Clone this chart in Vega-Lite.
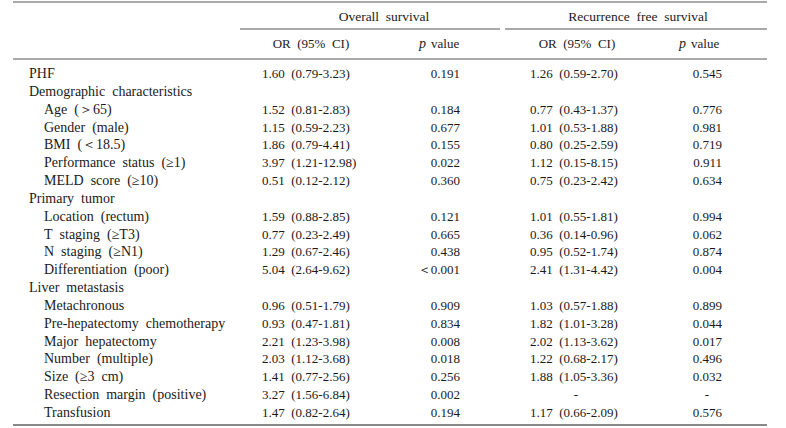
{
  "$schema": "https://vega.github.io/schema/vega-lite/v6.json",
  "width": 786,
  "height": 428,
  "padding": 0,
  "autosize": {"type": "fit", "contains": "padding"},
  "config": {
    "view": {"stroke": null},
    "text": {"font": "Liberation Serif", "fontSize": 13, "color": "#1a1a1a", "baseline": "middle"}
  },
  "datasets": {
    "table": [
      {"row": 1, "label": "PHF", "level": "top", "or1": "1.60\u2002(0.79-3.23)", "p1": "0.191", "or2": "1.26\u2002(0.59-2.70)", "p2": "0.545"},
      {"row": 2, "label": "Demographic\u2002characteristics", "level": "group", "or1": "", "p1": "", "or2": "", "p2": ""},
      {"row": 3, "label": "Age\u2002(＞65)", "level": "item", "or1": "1.52\u2002(0.81-2.83)", "p1": "0.184", "or2": "0.77\u2002(0.43-1.37)", "p2": "0.776"},
      {"row": 4, "label": "Gender\u2002(male)", "level": "item", "or1": "1.15\u2002(0.59-2.23)", "p1": "0.677", "or2": "1.01\u2002(0.53-1.88)", "p2": "0.981"},
      {"row": 5, "label": "BMI\u2002(＜18.5)", "level": "item", "or1": "1.86\u2002(0.79-4.41)", "p1": "0.155", "or2": "0.80\u2002(0.25-2.59)", "p2": "0.719"},
      {"row": 6, "label": "Performance\u2002status\u2002(≥1)", "level": "item", "or1": "3.97\u2002(1.21-12.98)", "p1": "0.022", "or2": "1.12\u2002(0.15-8.15)", "p2": "0.911"},
      {"row": 7, "label": "MELD\u2002score\u2002(≥10)", "level": "item", "or1": "0.51\u2002(0.12-2.12)", "p1": "0.360", "or2": "0.75\u2002(0.23-2.42)", "p2": "0.634"},
      {"row": 8, "label": "Primary\u2002tumor", "level": "group", "or1": "", "p1": "", "or2": "", "p2": ""},
      {"row": 9, "label": "Location\u2002(rectum)", "level": "item", "or1": "1.59\u2002(0.88-2.85)", "p1": "0.121", "or2": "1.01\u2002(0.55-1.81)", "p2": "0.994"},
      {"row": 10, "label": "T\u2002staging\u2002(≥T3)", "level": "item", "or1": "0.77\u2002(0.23-2.49)", "p1": "0.665", "or2": "0.36\u2002(0.14-0.96)", "p2": "0.062"},
      {"row": 11, "label": "N\u2002staging\u2002(≥N1)", "level": "item", "or1": "1.29\u2002(0.67-2.46)", "p1": "0.438", "or2": "0.95\u2002(0.52-1.74)", "p2": "0.874"},
      {"row": 12, "label": "Differentiation\u2002(poor)", "level": "item", "or1": "5.04\u2002(2.64-9.62)", "p1": "＜0.001", "or2": "2.41\u2002(1.31-4.42)", "p2": "0.004"},
      {"row": 13, "label": "Liver\u2002metastasis", "level": "group", "or1": "", "p1": "", "or2": "", "p2": ""},
      {"row": 14, "label": "Metachronous", "level": "item", "or1": "0.96\u2002(0.51-1.79)", "p1": "0.909", "or2": "1.03\u2002(0.57-1.88)", "p2": "0.899"},
      {"row": 15, "label": "Pre-hepatectomy\u2002chemotherapy", "level": "item", "or1": "0.93\u2002(0.47-1.81)", "p1": "0.834", "or2": "1.82\u2002(1.01-3.28)", "p2": "0.044"},
      {"row": 16, "label": "Major\u2002hepatectomy", "level": "item", "or1": "2.21\u2002(1.23-3.98)", "p1": "0.008", "or2": "2.02\u2002(1.13-3.62)", "p2": "0.017"},
      {"row": 17, "label": "Number\u2002(multiple)", "level": "item", "or1": "2.03\u2002(1.12-3.68)", "p1": "0.018", "or2": "1.22\u2002(0.68-2.17)", "p2": "0.496"},
      {"row": 18, "label": "Size\u2002(≥3\u2002cm)", "level": "item", "or1": "1.41\u2002(0.77-2.56)", "p1": "0.256", "or2": "1.88\u2002(1.05-3.36)", "p2": "0.032"},
      {"row": 19, "label": "Resection\u2002margin\u2002(positive)", "level": "item", "or1": "3.27\u2002(1.56-6.84)", "p1": "0.002", "or2": "-", "p2": "-"},
      {"row": 20, "label": "Transfusion", "level": "item", "or1": "1.47\u2002(0.82-2.64)", "p1": "0.194", "or2": "1.17\u2002(0.66-2.09)", "p2": "0.576"}
    ],
    "one": [{"k": 1}]
  },
  "data": {"name": "table"},
  "layer": [
    {"transform": [{"filter": "datum.level !== 'item'"}],
     "mark": {"type": "text", "align": "left", "fontSize": 14},
     "encoding": {
       "x": {"datum": 29, "type": "quantitative", "axis": null, "scale": {"domain": [0, 786], "nice": false, "zero": false}},
       "y": {"field": "row", "type": "quantitative", "axis": null, "scale": {"domain": [-3.1475, 20.84], "reverse": true, "nice": false, "zero": false}},
       "text": {"field": "label"}}},
    {"transform": [{"filter": "datum.level === 'item'"}],
     "mark": {"type": "text", "align": "left", "fontSize": 14},
     "encoding": {"x": {"datum": 44, "type": "quantitative"}, "y": {"field": "row", "type": "quantitative"}, "text": {"field": "label"}}},
    {"mark": {"type": "text", "align": "left"},
     "encoding": {"x": {"datum": 262, "type": "quantitative"}, "y": {"field": "row", "type": "quantitative"}, "text": {"field": "or1"}}},
    {"mark": {"type": "text", "align": "right"},
     "encoding": {"x": {"datum": 460, "type": "quantitative"}, "y": {"field": "row", "type": "quantitative"}, "text": {"field": "p1"}}},
    {"transform": [{"filter": "datum.or2 !== '-'"}],
     "mark": {"type": "text", "align": "left"},
     "encoding": {"x": {"datum": 530, "type": "quantitative"}, "y": {"field": "row", "type": "quantitative"}, "text": {"field": "or2"}}},
    {"transform": [{"filter": "datum.or2 === '-'"}],
     "mark": {"type": "text", "align": "center"},
     "encoding": {"x": {"datum": 576, "type": "quantitative"}, "y": {"field": "row", "type": "quantitative"}, "text": {"field": "or2"}}},
    {"transform": [{"filter": "datum.p2 !== '-'"}],
     "mark": {"type": "text", "align": "right"},
     "encoding": {"x": {"datum": 722, "type": "quantitative"}, "y": {"field": "row", "type": "quantitative"}, "text": {"field": "p2"}}},
    {"transform": [{"filter": "datum.p2 === '-'"}],
     "mark": {"type": "text", "align": "center"},
     "encoding": {"x": {"datum": 707, "type": "quantitative"}, "y": {"field": "row", "type": "quantitative"}, "text": {"field": "p2"}}},
    {"data": {"name": "one"},
     "mark": {"type": "text", "align": "center", "fontSize": 13.5, "text": "Overall\u2002survival"},
     "encoding": {"x": {"datum": 384, "type": "quantitative"}, "y": {"datum": -2.195, "type": "quantitative"}}},
    {"data": {"name": "one"},
     "mark": {"type": "text", "align": "center", "fontSize": 13.5, "text": "Recurrence\u2002free\u2002survival"},
     "encoding": {"x": {"datum": 638, "type": "quantitative"}, "y": {"datum": -2.195, "type": "quantitative"}}},
    {"data": {"name": "one"},
     "mark": {"type": "text", "align": "center", "text": "OR\u2002(95%\u2002CI)"},
     "encoding": {"x": {"datum": 311, "type": "quantitative"}, "y": {"datum": -0.681, "type": "quantitative"}}},
    {"data": {"name": "one"},
     "mark": {"type": "text", "align": "center", "text": "OR\u2002(95%\u2002CI)"},
     "encoding": {"x": {"datum": 577, "type": "quantitative"}, "y": {"datum": -0.681, "type": "quantitative"}}},
    {"data": {"name": "one"},
     "mark": {"type": "text", "align": "right", "fontStyle": "italic", "fontSize": 14, "text": "p"},
     "encoding": {"x": {"datum": 426, "type": "quantitative"}, "y": {"datum": -0.681, "type": "quantitative"}}},
    {"data": {"name": "one"},
     "mark": {"type": "text", "align": "left", "text": "value"},
     "encoding": {"x": {"datum": 431, "type": "quantitative"}, "y": {"datum": -0.681, "type": "quantitative"}}},
    {"data": {"name": "one"},
     "mark": {"type": "text", "align": "right", "fontStyle": "italic", "fontSize": 14, "text": "p"},
     "encoding": {"x": {"datum": 686, "type": "quantitative"}, "y": {"datum": -0.681, "type": "quantitative"}}},
    {"data": {"name": "one"},
     "mark": {"type": "text", "align": "left", "text": "value"},
     "encoding": {"x": {"datum": 691, "type": "quantitative"}, "y": {"datum": -0.681, "type": "quantitative"}}},
    {"data": {"name": "one"},
     "mark": {"type": "rule", "color": "#555555", "strokeWidth": 1},
     "encoding": {"x": {"datum": 13, "type": "quantitative"}, "x2": {"datum": 767}, "y": {"datum": -3.035, "type": "quantitative"}}},
    {"data": {"name": "one"},
     "mark": {"type": "rule", "color": "#555555", "strokeWidth": 1},
     "encoding": {"x": {"datum": 240, "type": "quantitative"}, "x2": {"datum": 500}, "y": {"datum": -1.522, "type": "quantitative"}}},
    {"data": {"name": "one"},
     "mark": {"type": "rule", "color": "#555555", "strokeWidth": 1},
     "encoding": {"x": {"datum": 505, "type": "quantitative"}, "x2": {"datum": 767}, "y": {"datum": -1.522, "type": "quantitative"}}},
    {"data": {"name": "one"},
     "mark": {"type": "rule", "color": "#aaaaaa", "strokeWidth": 2},
     "encoding": {"x": {"datum": 13, "type": "quantitative"}, "x2": {"datum": 767}, "y": {"datum": 0.159, "type": "quantitative"}}},
    {"data": {"name": "one"},
     "mark": {"type": "rule", "color": "#888888", "strokeWidth": 2},
     "encoding": {"x": {"datum": 13, "type": "quantitative"}, "x2": {"datum": 767}, "y": {"datum": 20.673, "type": "quantitative"}}}
  ]
}
